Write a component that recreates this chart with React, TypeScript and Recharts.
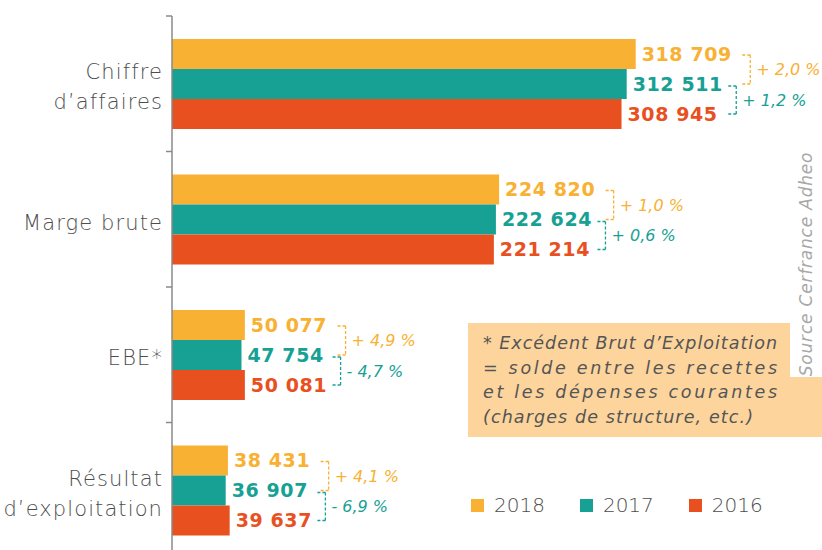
import React from 'react';
import { BarChart, Bar, XAxis, YAxis, LabelList, Legend } from 'recharts';

const categories = ['Chiffre\nd’affaires', 'Marge brute', 'EBE*', 'Résultat\nd’exploitation'];
const values2018 = [318709, 224820, 50077, 38431];
const values2017 = [312511, 222624, 47754, 36907];
const values2016 = [308945, 221214, 50081, 39637];
const change2018 = ['+ 2,0 %', '+ 1,0 %', '+ 4,9 %', '+ 4,1 %'];
const change2017 = ['+ 1,2 %', '+ 0,6 %', '- 4,7 %', '- 6,9 %'];
const seriesNames = ['2018', '2017', '2016'];
const noteLines = [
  '* Excédent Brut d’Exploitation',
  '= solde entre les recettes',
  'et les dépenses courantes',
  '(charges de structure, etc.)',
];
const noteWidths = [294, 294, 294, 270];
const sourceText = 'Source Cerfrance Adheo';

const C18 = '#F8B133';
const C17 = '#17A195';
const C16 = '#E8511F';
const GREY = '#4d4d4d';

const data = categories.map((name, i) => ({
  name,
  y2018: values2018[i],
  y2017: values2017[i],
  y2016: values2016[i],
  c2018: change2018[i],
  c2017: change2017[i],
}));

const CHART_W = 822;
const CHART_H = 558;
const MARGIN = { top: 16, right: 68, bottom: 0, left: 0 };
const AXIS_W = 172;
const BAND_HALF = (CHART_H - MARGIN.top - MARGIN.bottom) / categories.length / 2;

const VALUE_SIZE = 19;
const VALUE_FONT = `bold ${VALUE_SIZE}px "DejaVu Sans"`;
const VALUE_SPACING = 0.6;
const LABEL_GAP = 6;

const fmt = (v: number) => String(v).replace(/\B(?=(\d{3})+(?!\d))/g, ' ');

let ctx: CanvasRenderingContext2D | null = null;
function measure(t: string) {
  if (!ctx) ctx = document.createElement('canvas').getContext('2d');
  if (!ctx) return t.length * 12;
  ctx.font = VALUE_FONT;
  return ctx.measureText(t).width + VALUE_SPACING * (t.length - 1);
}

const makeValueLabel = (color: string) => (props: any) => {
  const { x, y, width, height, value } = props;
  return (
    <text
      x={x + width + LABEL_GAP}
      y={y + height / 2}
      dy="0.36em"
      fill={color}
      fontFamily="DejaVu Sans"
      fontWeight="bold"
      fontSize={VALUE_SIZE}
      letterSpacing={VALUE_SPACING}
    >
      {fmt(Number(value))}
    </text>
  );
};

const Bracket = ({ xv, y1, y2, color }: { xv: number; y1: number; y2: number; color: string }) => (
  <g stroke={color} strokeWidth={1.3} strokeDasharray="3 2" fill="none">
    <line x1={xv - 8} x2={xv} y1={y1} y2={y1} />
    <line x1={xv} x2={xv} y1={y1} y2={y2} />
    <line x1={xv - 8} x2={xv} y1={y2} y2={y2} />
  </g>
);

const ChangeAnnotation = (props: any) => {
  const { x, y, width, height, index } = props;
  const row = data[index];
  if (!row) return null;
  const k = width / row.y2018;
  const end18 = x + width + LABEL_GAP + measure(fmt(row.y2018));
  const end17 = x + row.y2017 * k + LABEL_GAP + measure(fmt(row.y2017));
  const end16 = x + row.y2016 * k + LABEL_GAP + measure(fmt(row.y2016));
  const xo = Math.max(end18, end17) + 19;
  const xt = Math.max(end17, end16) + 14;
  const o1 = y + height / 2 + 1;
  const o2 = y + height * 1.5;
  const t1 = y + height * 1.5 + 2;
  const t2 = y + height * 2.5;
  const txtProps = {
    fontFamily: 'DejaVu Sans',
    fontStyle: 'italic',
    fontSize: 16,
    dy: '0.35em',
  };
  return (
    <g>
      <Bracket xv={xo} y1={o1} y2={o2} color={C18} />
      <text x={xo + 6} y={(o1 + o2) / 2} fill={C18} {...txtProps}>
        {row.c2018}
      </text>
      <Bracket xv={xt} y1={t1} y2={t2} color={C17} />
      <text x={xt + 6} y={(t1 + t2) / 2} fill={C17} {...txtProps}>
        {row.c2017}
      </text>
    </g>
  );
};

const CategoryTick = (props: any) => {
  const { y, payload, index } = props;
  const lines = String(payload.value).split('\n');
  const lh = 30;
  const y0 = y + 3 - ((lines.length - 1) * lh) / 2;
  const tx = AXIS_W - 9;
  return (
    <g>
      <text
        textAnchor="end"
        fill={GREY}
        fontFamily="DejaVu Sans"
        fontWeight={300}
        fontSize={21}
        letterSpacing={1.1}
      >
        {lines.map((l, i) => (
          <tspan key={i} x={tx} y={y0 + i * lh} dy="0.36em">
            {l}
          </tspan>
        ))}
      </text>
      <line x1={AXIS_W - 6} x2={AXIS_W} y1={y - BAND_HALF} y2={y - BAND_HALF} stroke="#8a8a8a" strokeWidth={1.5} />
      {index === categories.length - 1 && (
        <line x1={AXIS_W - 6} x2={AXIS_W} y1={y + BAND_HALF} y2={y + BAND_HALF} stroke="#8a8a8a" strokeWidth={1.5} />
      )}
    </g>
  );
};

const LegendContent = (props: any) => {
  const payload = [...(props.payload || [])].sort(
    (a: any, b: any) => seriesNames.indexOf(String(a.value)) - seriesNames.indexOf(String(b.value))
  );
  return (
    <div style={{ display: 'flex', alignItems: 'center' }}>
      {payload.map((p: any, i: number) => (
        <div key={i} style={{ display: 'flex', alignItems: 'center', marginRight: 35 }}>
          <div style={{ width: 13, height: 13, background: p.color, marginRight: 10 }} />
          <span style={{ fontFamily: 'DejaVu Sans', fontWeight: 300, fontSize: 20, color: GREY, lineHeight: '20px' }}>
            {p.value}
          </span>
        </div>
      ))}
    </div>
  );
};

export default function App() {
  return (
    <div
      style={{
        position: 'fixed',
        left: 0,
        top: 0,
        width: 822,
        height: 550,
        overflow: 'hidden',
        background: '#fff',
      }}
    >
      <svg width={822} height={550} style={{ position: 'absolute', left: 0, top: 0 }}>
        <rect x={468} y={323} width={354} height={114} fill="#FCD49C" />
        <rect x={790} y={140} width={32} height={237} fill="#fff" />
        {noteLines.map((l, i) => (
          <text
            key={i}
            x={483}
            y={343 + i * 24.5}
            dy="0.35em"
            fill="#555"
            fontFamily="DejaVu Sans"
            fontStyle="italic"
            fontWeight={300}
            fontSize={17.5}
            textLength={noteWidths[i]}
            lengthAdjust="spacing"
          >
            {l}
          </text>
        ))}
        <text
          transform="translate(806 264) rotate(-90)"
          textAnchor="middle"
          dy="0.35em"
          fill="#a8a8a8"
          fontFamily="DejaVu Sans"
          fontStyle="italic"
          fontWeight={300}
          fontSize={17}
          letterSpacing={0.8}
        >
          {sourceText}
        </text>
      </svg>
      <div style={{ position: 'absolute', left: 0, top: 0 }}>
        <BarChart
          width={CHART_W}
          height={CHART_H}
          data={data}
          layout="vertical"
          margin={MARGIN}
          barSize={30}
          barGap={0}
        >
          <XAxis type="number" domain={[0, 400000]} hide />
          <YAxis
            type="category"
            dataKey="name"
            width={AXIS_W}
            axisLine={{ stroke: '#8a8a8a', strokeWidth: 1.5 }}
            tickLine={false}
            tick={<CategoryTick />}
            interval={0}
          />
          <Legend
            layout="horizontal"
            verticalAlign="middle"
            align="center"
            content={<LegendContent />}
            wrapperStyle={{ position: 'absolute', left: 471, top: 495, width: 340, height: 22 }}
          />
          <Bar dataKey="y2018" name={seriesNames[0]} fill={C18} isAnimationActive={false}>
            <LabelList dataKey="y2018" content={makeValueLabel(C18)} />
            <LabelList dataKey="c2018" content={ChangeAnnotation} />
          </Bar>
          <Bar dataKey="y2017" name={seriesNames[1]} fill={C17} isAnimationActive={false}>
            <LabelList dataKey="y2017" content={makeValueLabel(C17)} />
          </Bar>
          <Bar dataKey="y2016" name={seriesNames[2]} fill={C16} isAnimationActive={false}>
            <LabelList dataKey="y2016" content={makeValueLabel(C16)} />
          </Bar>
        </BarChart>
      </div>
    </div>
  );
}
